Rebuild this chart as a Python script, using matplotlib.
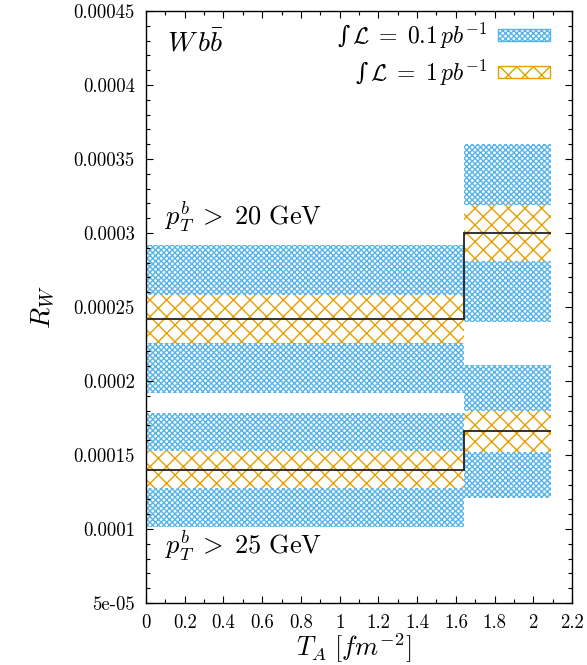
import numpy as np
import matplotlib
matplotlib.use("Agg")
import matplotlib.pyplot as plt
from matplotlib.patches import Patch
from matplotlib.ticker import MultipleLocator, FuncFormatter

plt.rcParams['mathtext.fontset'] = 'cm'
plt.rcParams['font.family'] = ['cmr10', 'DejaVu Serif']
plt.rcParams['axes.formatter.use_mathtext'] = True
plt.rcParams['hatch.linewidth'] = 1.0

# T_A bin edges [fm^-2]
edges = [0.0, 1.64, 2.09]

# p_T^b > 20 GeV
central_20 = [0.000242, 0.000300]
err_lumi01_20 = [0.000050, 0.000060]   # 0.1 pb^-1
err_lumi1_20 = [0.000016, 0.000019]    # 1 pb^-1

# p_T^b > 25 GeV
central_25 = [0.000140, 0.000166]
err_lumi01_25 = [0.0000385, 0.000045]
err_lumi1_25 = [0.0000125, 0.000014]

blue = '#56B4E9'
orange = '#E69F00'

fig = plt.figure(figsize=(5.87, 6.65), dpi=100)
ax = fig.add_axes([0.2487, 0.0932, 0.7257, 0.8903])

x0 = np.array(edges[:-1])
w = np.diff(edges)

for cen, e01, e1 in [(central_20, err_lumi01_20, err_lumi1_20),
                     (central_25, err_lumi01_25, err_lumi1_25)]:
    cen = np.array(cen)
    e01 = np.array(e01)
    e1 = np.array(e1)
    ax.bar(x0, 2 * e01, width=w, bottom=cen - e01, align='edge',
           facecolor='none', edgecolor=blue, hatch='xxxxxx', linewidth=0, zorder=1)
    ax.bar(x0, 2 * e1, width=w, bottom=cen - e1, align='edge',
           facecolor='white', edgecolor=orange, hatch='xx', linewidth=0, zorder=2)
    ax.stairs(cen, edges, baseline=None, color='#222222', linewidth=1.3, zorder=3)

ax.set_xlim(0, 2.2)
ax.set_ylim(0.00005, 0.00045)

ax.xaxis.set_major_locator(MultipleLocator(0.2))
ax.xaxis.set_minor_locator(MultipleLocator(0.1))
ax.yaxis.set_major_locator(MultipleLocator(0.00005))
ax.yaxis.set_minor_locator(MultipleLocator(0.00001))


def xfmt(v, pos):
    s = f"{v:.1f}".rstrip('0').rstrip('.')
    return s


def yfmt(v, pos):
    if abs(v - 0.00005) < 1e-9:
        return "5e-05"
    s = f"{v:.5f}".rstrip('0')
    return s


ax.xaxis.set_major_formatter(FuncFormatter(xfmt))
ax.yaxis.set_major_formatter(FuncFormatter(yfmt))
ax.tick_params(which='both', direction='in', top=True, right=True,
               labelsize=13.5, pad=8)
ax.tick_params(which='major', length=5, width=0.8)
ax.tick_params(which='minor', length=3, width=0.8)
for sp in ax.spines.values():
    sp.set_linewidth(1.0)

ax.set_xlabel(r'$T_A\ [fm^{-2}]$', fontsize=19)
ax.xaxis.set_label_coords(0.488, -0.048)
ax.set_ylabel(r'$R_W$', fontsize=20, labelpad=12)

ax.text(0.11, 0.000428, r'$W\,b\bar{b}$', fontsize=20, va='center', ha='left')
ax.text(0.10, 0.000311, r'$p_T^b\;>\;20\ \mathrm{GeV}$', fontsize=19,
        va='center', ha='left')
ax.text(0.10, 0.0000885, r'$p_T^b\;>\;25\ \mathrm{GeV}$', fontsize=19,
        va='center', ha='left')

handles = [Patch(facecolor='white', edgecolor=blue, hatch='xxxxxx', linewidth=1.0),
           Patch(facecolor='white', edgecolor=orange, hatch='xx', linewidth=1.0)]
labels = [r'∫$\,\mathcal{L}\;=\;0.1\,pb^{-1}$', r'∫$\,\mathcal{L}\;=\;1\,pb^{-1}$']
ax.legend(handles, labels, loc='upper right', bbox_to_anchor=(0.97, 1.0),
          frameon=False, markerfirst=False,
          prop={'family': 'DejaVu Serif', 'size': 17}, handlelength=2.2,
          handleheight=0.4, handletextpad=0.45, labelspacing=0.3,
          borderaxespad=0, alignment='right')

fig.savefig('out.png', dpi=100)
